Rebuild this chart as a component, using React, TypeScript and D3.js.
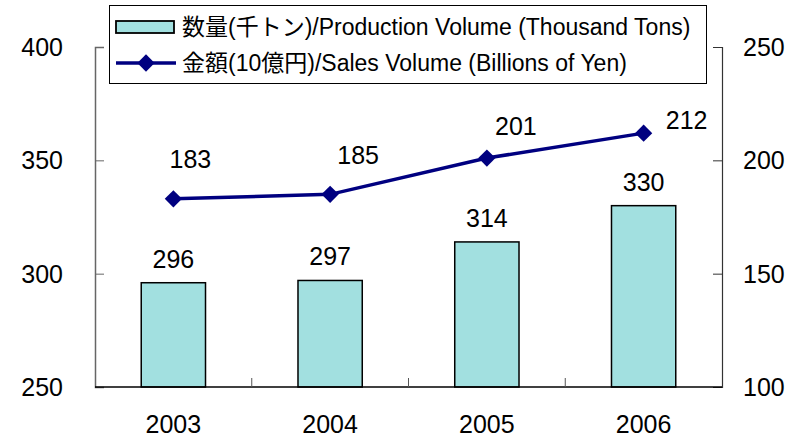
import { useEffect, useRef } from "react";
import * as d3 from "d3";

const years = ["2003", "2004", "2005", "2006"];
const production = [296, 297, 314, 330];
const sales = [183, 185, 201, 212];
const leftTicks = [250, 300, 350, 400];
const rightTicks = [100, 150, 200, 250];
const legendLabels = [
	"数量(千トン)/Production Volume (Thousand Tons)",
	"金額(10億円)/Sales Volume (Billions of Yen)"
];

// placement of the line's value labels, relative to each marker
const salesLabelOffsets: [number, number][] = [
	[17, -40],
	[28, -39],
	[29, -32],
	[43, -13]
];

const barFill = "#a2e0e0";
const lineColor = "#000080";
const font = "'Liberation Sans', 'Noto Sans CJK JP', sans-serif";
const numSize = 25;

export default function App() {
	const ref = useRef<SVGSVGElement>(null);

	useEffect(() => {
		if (!ref.current) return;
		const svg = d3.select(ref.current);
		svg.selectAll("*").remove();

		const left = 95;
		const right = 722;
		const top = 47;
		const bottom = 387;

		const x = d3.scaleBand().domain(years).range([left, right]).paddingInner(0).paddingOuter(0);
		const yL = d3.scaleLinear().domain([250, 400]).range([bottom, top]);
		const yR = d3.scaleLinear().domain([100, 250]).range([bottom, top]);
		const barW = x.bandwidth() * 0.41;

		// bars
		svg
			.append("g")
			.selectAll("rect")
			.data(production)
			.join("rect")
			.attr("x", (_, i) => (x(years[i]) ?? 0) + (x.bandwidth() - barW) / 2)
			.attr("y", (d) => yL(d))
			.attr("width", barW)
			.attr("height", (d) => bottom - yL(d))
			.attr("fill", barFill)
			.attr("stroke", "#000")
			.attr("stroke-width", 1.5);

		svg
			.append("g")
			.selectAll("text")
			.data(production)
			.join("text")
			.attr("x", (_, i) => (x(years[i]) ?? 0) + x.bandwidth() / 2)
			.attr("y", (d) => yL(d) - 24)
			.attr("dy", "0.36em")
			.attr("text-anchor", "middle")
			.attr("font-family", font)
			.attr("font-size", numSize)
			.attr("fill", "#000")
			.text((d) => `${d}`);

		// axes
		const leftAxis = svg
			.append("g")
			.attr("transform", `translate(${left},0)`)
			.call(d3.axisRight(yL).tickValues(leftTicks).tickSize(9).tickFormat(() => ""));
		leftAxis.select(".domain").attr("stroke", "#666").attr("stroke-width", 1.5);
		leftAxis.selectAll("line").attr("stroke", "#666");

		const rightAxis = svg
			.append("g")
			.attr("transform", `translate(${right},0)`)
			.call(d3.axisLeft(yR).tickValues(rightTicks).tickSize(9).tickFormat(() => ""));
		rightAxis.select(".domain").attr("stroke", "#333").attr("stroke-width", 1.2);
		rightAxis.selectAll("line").attr("stroke", "#333");

		svg
			.append("g")
			.selectAll("text")
			.data(leftTicks)
			.join("text")
			.attr("x", 63)
			.attr("y", (d) => yL(d))
			.attr("dy", "0.36em")
			.attr("text-anchor", "end")
			.attr("font-family", font)
			.attr("font-size", numSize)
			.text((d) => `${d}`);

		svg
			.append("g")
			.selectAll("text")
			.data(rightTicks)
			.join("text")
			.attr("x", 743)
			.attr("y", (d) => yR(d))
			.attr("dy", "0.36em")
			.attr("text-anchor", "start")
			.attr("font-family", font)
			.attr("font-size", numSize)
			.text((d) => `${d}`);

		// category axis
		svg
			.append("line")
			.attr("x1", left)
			.attr("x2", right)
			.attr("y1", bottom)
			.attr("y2", bottom)
			.attr("stroke", "#000")
			.attr("stroke-width", 1.5);
		svg
			.append("g")
			.selectAll("line")
			.data(years.slice(1))
			.join("line")
			.attr("x1", (d) => x(d) ?? 0)
			.attr("x2", (d) => x(d) ?? 0)
			.attr("y1", bottom)
			.attr("y2", bottom - 9)
			.attr("stroke", "#555");
		svg
			.append("g")
			.selectAll("text")
			.data(years)
			.join("text")
			.attr("x", (d) => (x(d) ?? 0) + x.bandwidth() / 2)
			.attr("y", 424)
			.attr("dy", "0.36em")
			.attr("text-anchor", "middle")
			.attr("font-family", font)
			.attr("font-size", numSize)
			.text((d) => d);

		// sales line
		const pts = sales.map((v, i) => [(x(years[i]) ?? 0) + x.bandwidth() / 2, yR(v)] as [number, number]);
		svg
			.append("path")
			.attr("d", d3.line()(pts))
			.attr("fill", "none")
			.attr("stroke", lineColor)
			.attr("stroke-width", 3.5);
		const diamond = d3.symbol().type(d3.symbolDiamond2).size(190);
		svg
			.append("g")
			.selectAll("path")
			.data(pts)
			.join("path")
			.attr("transform", (p) => `translate(${p[0]},${p[1]})`)
			.attr("d", diamond())
			.attr("fill", lineColor);
		svg
			.append("g")
			.selectAll("text")
			.data(sales)
			.join("text")
			.attr("x", (_, i) => pts[i][0] + salesLabelOffsets[i][0])
			.attr("y", (_, i) => pts[i][1] + salesLabelOffsets[i][1])
			.attr("dy", "0.36em")
			.attr("text-anchor", "middle")
			.attr("font-family", font)
			.attr("font-size", numSize)
			.text((d) => `${d}`);

		// legend
		const legend = svg.append("g");
		legend
			.append("rect")
			.attr("x", 109.5)
			.attr("y", 5.5)
			.attr("width", 597)
			.attr("height", 78)
			.attr("fill", "#fff")
			.attr("stroke", "#000")
			.attr("stroke-width", 1);
		legend
			.append("rect")
			.attr("x", 116)
			.attr("y", 21)
			.attr("width", 58)
			.attr("height", 12)
			.attr("fill", barFill)
			.attr("stroke", "#000")
			.attr("stroke-width", 1.8);
		legend
			.append("line")
			.attr("x1", 116)
			.attr("x2", 176)
			.attr("y1", 63)
			.attr("y2", 63)
			.attr("stroke", lineColor)
			.attr("stroke-width", 3.5);
		legend
			.append("path")
			.attr("transform", "translate(146,63)")
			.attr("d", diamond())
			.attr("fill", lineColor);
		legend
			.selectAll("text")
			.data(legendLabels)
			.join("text")
			.attr("x", 182)
			.attr("y", (_, i) => 27 + i * 36)
			.attr("dy", "0.36em")
			.attr("font-family", font)
			.attr("font-size", 23)
			.attr("fill", "#000")
			.text((d) => d);
	}, []);

	return (
		<svg
			ref={ref}
			width={809}
			height={438}
			style={{ position: "absolute", left: 0, top: 0, background: "#fff" }}
		/>
	);
}
